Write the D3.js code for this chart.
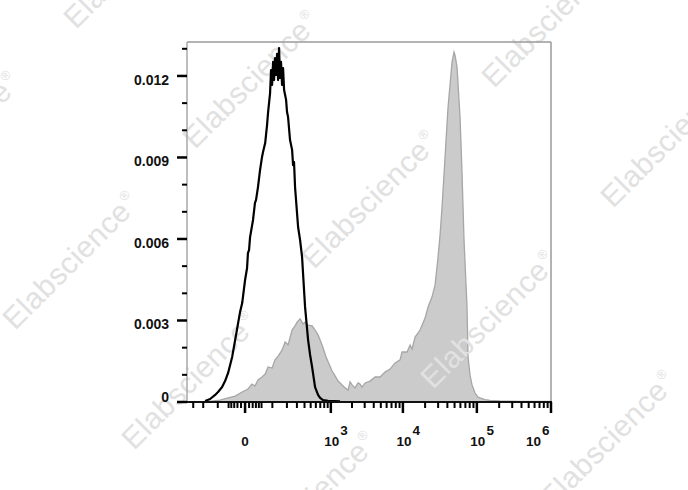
<!DOCTYPE html>
<html><head><meta charset="utf-8">
<script src="https://cdn.jsdelivr.net/npm/d3@7/dist/d3.min.js"></script>
<style>body{margin:0;background:#fff}svg{display:block}</style>
</head><body><svg id="c" width="688" height="490"></svg>
<script>
// Unstained control (black line): fluorescence value, density
const blackX = [-185,-147,-115,-98.5,-78,-64.6,-52,-37,-27,-18,-12.6,-7,0,4.8,7,9.9,12.6,21,27,30.5,37,44.5,52,56,65,73.5,78,
  88,93,98.5,104,109.5,115,121,127.5,134,140.5,147,154,161.5,169,177,185,193,201,210,
  228,248,258,268,279,314,339,365,408,456,490,526,584,648,695,770,912,1357];
const blackY = [0.00004,0.00011,0.00026,0.00037,0.00055,0.00077,0.00107,0.00166,0.00228,0.00291,0.00331,0.00364,0.00449,0.00493,0.00548,0.0056,0.00607,0.0067,0.00733,0.00744,0.00791,0.00854,0.00902,0.0092,0.00953,0.0102,0.01064,
  0.01137,0.01222,0.01167,0.01252,0.01185,0.01266,0.01204,0.01281,0.01185,0.01303,0.01193,0.01252,0.01167,0.01229,0.01148,0.0113,0.01112,0.01067,0.01049,
  0.00964,0.00928,0.00872,0.00883,0.00791,0.00644,0.00596,0.00534,0.0035,0.00228,0.00173,0.00129,0.00055,0.00026,0.00015,0.00007,0.00004,0.00002];

// Stained sample (grey filled histogram)
const grayX = [-185,-128,-88,-52,-27,-7,7,18,27,37,52,65,78,98.5,115,134,161.5,185,210,248,279,302,339,379,408,456,526,584,648,744,852,943,1042,1151,1271,1402,1547,1761,1879,2003,2207,2429,2589,2760,3037,3559,4170,4883,5716,6689,7825,9150,9740,10700,11390,12510,13310,14630,17090,19980,21940,24850,27280,29950,31860,33890,37210,40840,43460,46240,49200,50750,54000,59270,63070,67110,73670,76000,80870,86050,94460,103680,110320,128840,150450,205350,382800,971000];
const grayY = [0,0.00004,0.00007,0.00015,0.00022,0.00037,0.00048,0.00066,0.00059,0.00081,0.00092,0.00103,0.00129,0.00125,0.00155,0.00169,0.00191,0.00221,0.0021,0.00265,0.0028,0.00294,0.00306,0.00287,0.00294,0.00283,0.0028,0.00265,0.00247,0.0021,0.00166,0.0014,0.00114,0.00096,0.00077,0.00066,0.00055,0.00044,0.00074,0.00063,0.00052,0.0007,0.00066,0.00055,0.0007,0.00077,0.00092,0.00092,0.0011,0.00121,0.00144,0.00155,0.00184,0.00184,0.00184,0.0021,0.00195,0.00239,0.00265,0.00309,0.0035,0.00387,0.00431,0.00534,0.00615,0.00718,0.00902,0.01086,0.01167,0.01252,0.01288,0.01277,0.01233,0.01049,0.00843,0.00596,0.0035,0.00166,0.00099,0.00063,0.00033,0.00018,0.00015,0.00009,0.00006,0.00004,0.00002,0.00002];

const yTicks = [0, 0.003, 0.006, 0.009, 0.012];
const yTickLabels = ["0", "0.003", "0.006", "0.009", "0.012"];
const yMinorTicks = [0.001,0.002,0.004,0.005,0.007,0.008,0.010,0.011,0.013];
const xMajorTicks = [0, 1e3, 1e4, 1e5, 1e6];
const xMajorBase = ["0", "10", "10", "10", "10"];
const xMajorExp = ["", "3", "4", "5", "6"];
const xMinorTicks = [-300,-200,-100,-50,-40,-30,-20,-10,10,20,30,40,50,
  100,200,300,400,500,600,700,800,900,
  2000,3000,4000,5000,6000,7000,8000,9000,
  20000,30000,40000,50000,60000,70000,80000,90000,
  200000,300000,400000,500000,600000,700000,800000,900000];

const svg = d3.select("#c");
const FONT = "'Liberation Sans', Arial, sans-serif";
const L = 187, R = 551, T = 42, B = 402;

const x = d3.scaleSymlog().constant(75).domain([-380, 1e6]).range([L, R]);
const y = d3.scaleLinear().domain([0, 0.01325]).range([B, T]);

const grayData = grayX.map((v, i) => [v, grayY[i]]);
const blackData = blackX.map((v, i) => [v, blackY[i]]);

// grey filled histogram
svg.append("path").datum(grayData)
  .attr("d", d3.area().x(d => x(d[0])).y0(y(0)).y1(d => y(d[1])))
  .attr("fill", "#cbcbcb").attr("stroke", "none");
svg.append("path").datum(grayData)
  .attr("d", d3.line().x(d => x(d[0])).y(d => y(d[1])))
  .attr("fill", "none").attr("stroke", "#a6a6a6").attr("stroke-width", 1.3);

// watermarks
const wm = svg.append("g");
for (let i = -2; i <= 4; i++) {
  for (let j = -1; j <= 1; j++) {
    const sx = 195 + 119 * i + 299 * j, sy = 150 + 120 * i - 61 * j;
    if (sx < -250 || sx > 700 || sy < -20 || sy > 700) continue;
    const t = wm.append("text").attr("transform", `translate(${sx},${sy}) rotate(-45)`)
      .attr("font-family", FONT).attr("font-size", 30).attr("fill", "#e1e1e1");
    t.append("tspan").attr("textLength", 166).attr("lengthAdjust", "spacing").text("Elabscience");
    t.append("tspan").attr("font-size", 13).attr("dy", -14).attr("dx", 2).text("®");
  }
}

// black control line
svg.append("path").datum(blackData)
  .attr("d", d3.line().x(d => x(d[0])).y(d => y(d[1])))
  .attr("fill", "none").attr("stroke", "#000").attr("stroke-width", 2.2).attr("stroke-linejoin", "round");

// frame
svg.append("line").attr("x1", L).attr("x2", R).attr("y1", T).attr("y2", T).attr("stroke", "#9a9a9a").attr("stroke-width", 1.5);
svg.append("line").attr("x1", R).attr("x2", R).attr("y1", T).attr("y2", B).attr("stroke", "#9a9a9a").attr("stroke-width", 1.5);
svg.append("line").attr("x1", L).attr("x2", L).attr("y1", T).attr("y2", B).attr("stroke", "#a8a8a8").attr("stroke-width", 1.5);
svg.append("line").attr("x1", L - 1).attr("x2", R + 1).attr("y1", B).attr("y2", B).attr("stroke", "#111").attr("stroke-width", 2);

// y ticks
svg.selectAll(".ymaj").data(yTicks).enter().append("line")
  .attr("x1", L - 10).attr("x2", L).attr("y1", d => y(d)).attr("y2", d => y(d))
  .attr("stroke", "#000").attr("stroke-width", 2.5);
svg.selectAll(".ymin").data(yMinorTicks).enter().append("line")
  .attr("x1", L - 5).attr("x2", L).attr("y1", d => y(d)).attr("y2", d => y(d))
  .attr("stroke", "#000").attr("stroke-width", 2);
svg.selectAll(".ylab").data(yTicks).enter().append("text")
  .attr("x", 169).attr("y", d => d === 0 ? y(d) : y(d) + 9)
  .attr("text-anchor", "end").attr("font-family", FONT).attr("font-weight", "bold")
  .attr("font-size", 14).attr("fill", "#111")
  .text((d, i) => yTickLabels[i]);

// x ticks
svg.selectAll(".xmin").data(xMinorTicks).enter().append("line")
  .attr("x1", d => x(d)).attr("x2", d => x(d)).attr("y1", B).attr("y2", B + 6)
  .attr("stroke", "#000").attr("stroke-width", 2);
svg.selectAll(".xmaj").data(xMajorTicks).enter().append("line")
  .attr("x1", d => x(d)).attr("x2", d => x(d)).attr("y1", B).attr("y2", B + 11)
  .attr("stroke", "#000").attr("stroke-width", 2.5);
xMajorTicks.forEach((v, i) => {
  const px = x(v);
  const t = svg.append("text").attr("font-family", FONT).attr("font-weight", "bold")
    .attr("font-size", 13.5).attr("fill", "#111").attr("y", 446);
  if (xMajorExp[i] === "") {
    t.attr("x", px).attr("text-anchor", "middle").text(xMajorBase[i]);
  } else {
    const last = i === xMajorTicks.length - 1;
    t.attr("x", last ? px - 25 : px - 6.5).attr("text-anchor", "start");
    t.append("tspan").text(xMajorBase[i]);
    t.append("tspan").attr("dy", -11).attr("dx", 1).text(xMajorExp[i]);
  }
});
</script></body></html>
